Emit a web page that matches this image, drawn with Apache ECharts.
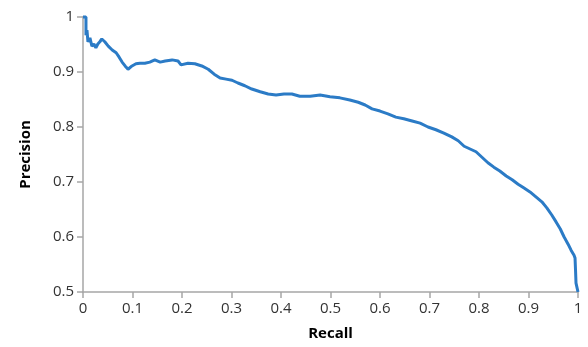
<!DOCTYPE html>
<html><head><meta charset="utf-8">
<script src="https://cdn.jsdelivr.net/npm/echarts@6/dist/echarts.min.js"></script>
<style>html,body{margin:0;padding:0;background:#fff}#c{width:588px;height:347px}</style>
</head><body><div id="c"></div>
<script>
const recall = [0,0.006,0.006,0.008,0.010,0.014,0.018,0.022,0.026,0.030,0.034,0.038,0.044,0.051,0.059,0.067,0.073,0.079,0.085,0.091,0.099,0.107,0.115,0.125,0.135,0.145,0.156,0.166,0.18,0.192,0.198,0.212,0.226,0.24,0.253,0.265,0.277,0.289,0.301,0.313,0.327,0.341,0.358,0.374,0.39,0.406,0.422,0.438,0.459,0.479,0.499,0.519,0.539,0.556,0.57,0.584,0.6,0.616,0.632,0.648,0.665,0.681,0.697,0.713,0.729,0.745,0.758,0.77,0.782,0.794,0.806,0.818,0.83,0.842,0.855,0.867,0.879,0.891,0.903,0.915,0.927,0.937,0.947,0.956,0.964,0.972,0.98,0.986,0.992,0.994,0.995,0.996,1.0];
const precision = [1.0,1.0,0.967,0.976,0.955,0.962,0.947,0.951,0.944,0.951,0.955,0.96,0.955,0.947,0.94,0.935,0.927,0.918,0.911,0.905,0.911,0.915,0.916,0.916,0.918,0.922,0.918,0.92,0.922,0.92,0.913,0.916,0.915,0.911,0.905,0.896,0.889,0.887,0.885,0.88,0.875,0.869,0.864,0.86,0.858,0.86,0.86,0.856,0.856,0.858,0.855,0.853,0.849,0.845,0.84,0.833,0.829,0.824,0.818,0.815,0.811,0.807,0.8,0.795,0.789,0.782,0.775,0.765,0.76,0.755,0.745,0.735,0.727,0.72,0.711,0.704,0.696,0.689,0.682,0.673,0.664,0.653,0.64,0.627,0.615,0.6,0.587,0.576,0.567,0.562,0.54,0.516,0.5];
const xTicks = [0,0.1,0.2,0.3,0.4,0.5,0.6,0.7,0.8,0.9,1];
const yTicks = [0.5,0.6,0.7,0.8,0.9,1];
const data = recall.map((r,i)=>[r,precision[i]]);
const chart = echarts.init(document.getElementById('c'));
const axisLine = {show:true, lineStyle:{color:'#a6a6a6', width:1.5}};
const labelStyle = {color:'#333', fontSize:15, fontFamily:'Open Sans'};
chart.setOption({
  animation:false,
  grid:{left:83,right:10,top:17,bottom:55},
  xAxis:{type:'value',min:0,max:1,interval:0.1,
    name:'Recall',nameLocation:'middle',nameGap:34,
    nameTextStyle:{fontWeight:'bold',fontSize:15,color:'#000',fontFamily:'Open Sans'},
    axisLine, axisTick:{show:true,length:6,lineStyle:{color:'#a6a6a6',width:1.5}},
    splitLine:{show:false},
    axisLabel:{...labelStyle, margin:9, formatter:v=>String(+v.toFixed(1))}},
  yAxis:{type:'value',min:0.5,max:1,interval:0.1,
    name:'Precision',nameLocation:'middle',nameGap:50,
    nameTextStyle:{fontWeight:'bold',fontSize:15,color:'#000',fontFamily:'Open Sans'},
    axisLine, axisTick:{show:true,length:6,lineStyle:{color:'#a6a6a6',width:1.5}},
    splitLine:{show:false},
    axisLabel:{...labelStyle, margin:9, formatter:v=>String(+v.toFixed(1))}},
  series:[{type:'line',data,showSymbol:false,symbol:'none',
    lineStyle:{color:'#2b7bc6',width:3},clip:false}]
});
</script></body></html>
